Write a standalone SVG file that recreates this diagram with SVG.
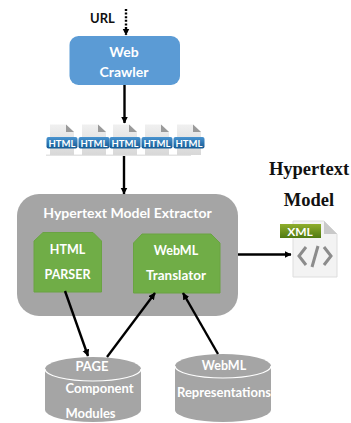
<svg xmlns="http://www.w3.org/2000/svg" width="351" height="423" viewBox="0 0 351 423">
<style>
.w{font-family:Lato,"Liberation Sans",sans-serif;font-weight:700;fill:#fff;text-anchor:middle}
.l{stroke:#000;stroke-width:2.400;fill:none}
.h{font-family:"Liberation Serif",serif;font-weight:700;font-size:18.500px;fill:#111;text-anchor:middle}
.g{fill:#70ad47;stroke:#6aa343;stroke-width:1}
.c{fill:#a5a5a5}
.t{font-family:Lato,"Liberation Sans",sans-serif;font-weight:700;font-size:9.500px;fill:#fff;text-anchor:middle}
</style>
<defs>
<marker id="a" markerWidth="8" markerHeight="8" refX="6.500" refY="3.500" orient="auto" markerUnits="userSpaceOnUse"><path d="M0 0L7 3.500L0 7z" fill="#000"/></marker>
<linearGradient id="b" x1="0" y1="0" x2="0" y2="1"><stop offset="0" stop-color="#4a94d0"/><stop offset="1" stop-color="#135a94"/></linearGradient>
<linearGradient id="p" x1="0" y1="0" x2="0" y2="1"><stop offset="0" stop-color="#f0f0f0"/><stop offset="1" stop-color="#d8d8d8"/></linearGradient>
<linearGradient id="x" x1="0" y1="0" x2="0" y2="1"><stop offset="0" stop-color="#8fae2c"/><stop offset="1" stop-color="#4f7a12"/></linearGradient>
<g id="page"><path d="M-12 124.500H4L12 132V155H-12z" fill="url(#p)"/><path d="M4 124.500L12 132H4z" fill="#9a9a9a"/><rect x="-15.500" y="137" width="31" height="11.500" rx="2" fill="url(#b)"/></g>
</defs>

<g id="url"><text x="102.500" y="23" font-family="Lato,'Liberation Sans',sans-serif" font-weight="700" font-size="13" fill="#111" text-anchor="middle">URL</text></g>

<g id="web-crawler">
<rect x="69.500" y="36" width="110.500" height="49" rx="9" fill="#5b9bd5"/>
<text class="w" x="124" y="57" font-size="14">Web</text>
<text class="w" x="124" y="77" font-size="14">Crawler</text>
</g>

<g id="html-files">
<rect x="46" y="154.500" width="145" height="1.500" fill="#e4e4e4"/>
<g id="html-1" transform="translate(62 0)"><use href="#page"/><text class="t" y="146.500">HTML</text></g>
<g id="html-2" transform="translate(94 0)"><use href="#page"/><text class="t" y="146.500">HTML</text></g>
<g id="html-3" transform="translate(125 0)"><use href="#page"/><text class="t" y="146.500">HTML</text></g>
<g id="html-4" transform="translate(157 0)"><use href="#page"/><text class="t" y="146.500">HTML</text></g>
<g id="html-5" transform="translate(189 0)"><use href="#page"/><text class="t" y="146.500">HTML</text></g>
</g>

<g id="hypertext-model-extractor">
<rect x="17" y="194" width="221" height="122" rx="22" fill="#a5a5a5"/>
<text class="w" x="127.500" y="218" font-size="14">Hypertext Model Extractor</text>
</g>

<g id="html-parser">
<path class="g" d="M43 232.500H93L101.500 241V292H34V241z"/>
<text class="w" x="67.500" y="254" font-size="12.500">HTML</text>
<text class="w" x="67.500" y="279" font-size="12.500">PARSER</text>
</g>

<g id="webml-translator">
<path class="g" d="M142 234H211L220 243V293H133.500V243z"/>
<text class="w" x="176" y="255" font-size="12.500">WebML</text>
<text class="w" x="176" y="280" font-size="13.500">Translator</text>
</g>

<g id="xml-file">
<path d="M293 221H324L337 234V277H293z" fill="#f3f3f3" stroke="#dddddd" stroke-width="1"/>
<path d="M324 221L337 234H324z" fill="#c9c9c9"/>
<rect x="280" y="224" width="41" height="14" fill="url(#x)"/>
<text x="300" y="235.500" font-family="Lato,'Liberation Sans',sans-serif" font-weight="700" font-size="12" fill="#fff" text-anchor="middle">XML</text>
<path d="M306 247L299 256L306 265M324 247L331 256L324 265M318 246L312 267" fill="none" stroke="#8c8c8c" stroke-width="3"/>
</g>

<g id="hypertext-model">
<text class="h" x="309" y="175">Hypertext</text>
<text class="h" x="309" y="206">Model</text>
</g>

<g id="page-component-modules">
<path class="c" d="M45 369A48 12 0 0 1 141 369V410A48 12 0 0 1 45 410z"/>
<path d="M45 369A48 12 0 0 0 141 369" fill="none" stroke="#fff" stroke-width="1.200"/>
<text class="w" x="92" y="371" font-size="13">PAGE</text>
<text class="w" x="99.500" y="393" font-size="13">Component</text>
<text class="w" x="90.500" y="418" font-size="13">Modules</text>
</g>

<g id="webml-representations">
<path class="c" d="M175 366A48 12 0 0 1 271 366V410A48 12 0 0 1 175 410z"/>
<path d="M175 366A48 12 0 0 0 271 366" fill="none" stroke="#fff" stroke-width="1.200"/>
<text class="w" x="224" y="370" font-size="12.500">WebML</text>
<text class="w" x="224" y="397" font-size="13">Representations</text>
</g>

<g id="connectors">
<path class="l" d="M126 9V35" stroke-dasharray="2 1.600" marker-end="url(#a)"/>
<path class="l" d="M124.500 85V123" marker-end="url(#a)"/>
<path class="l" d="M124 156V194" marker-end="url(#a)"/>
<path class="l" d="M238 254.500H291" marker-end="url(#a)"/>
<path class="l" d="M65 291L88 356" marker-end="url(#a)"/>
<path class="l" d="M107 357L155 293" marker-end="url(#a)"/>
<path class="l" d="M218 354L183 293" marker-end="url(#a)"/>
</g>
</svg>
